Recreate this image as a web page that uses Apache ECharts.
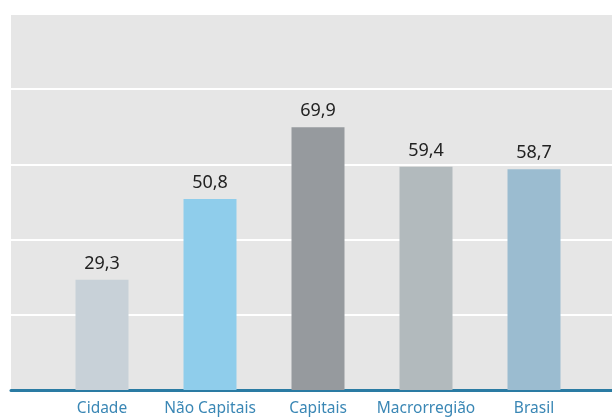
<!DOCTYPE html>
<html>
<head>
<meta charset="utf-8">
<script src="https://cdn.jsdelivr.net/npm/echarts@6/dist/echarts.min.js"></script>
<style>
html,body{margin:0;padding:0;background:#ffffff;}
#chart{width:612px;height:420px;}
</style>
</head>
<body>
<div id="chart"></div>
<script>
const categories = ['Cidade', 'Não Capitais', 'Capitais', 'Macrorregião', 'Brasil'];
const values = [29.3, 50.8, 69.9, 59.4, 58.7];
const barColors = ['#c8d1d8', '#8fcdeb', '#969a9e', '#b2babd', '#9bbcd0'];

const chart = echarts.init(document.getElementById('chart'));
chart.setOption({
  backgroundColor: '#ffffff',
  animation: false,
  grid: [
    {left: 11, right: 0, top: 14, bottom: 30, show: true, backgroundColor: '#e6e6e6', borderWidth: 0},
    {left: 48, width: 540, top: 14, bottom: 30}
  ],
  xAxis: [
    {gridIndex: 0, type: 'value', min: 0, max: 1,
     axisLine: {show: true, onZero: false, lineStyle: {color: '#2a7ba3', width: 3}},
     axisTick: {show: false}, axisLabel: {show: false}, splitLine: {show: false}},
    {gridIndex: 1, type: 'category', data: categories,
     axisLine: {show: false}, axisTick: {show: false},
     axisLabel: {interval: 0, color: '#3a87b5', fontSize: 15.5, fontFamily: 'Noto Sans', margin: 11}}
  ],
  yAxis: [
    {gridIndex: 0, type: 'value', min: 0, max: 100, interval: 20,
     axisLine: {show: false}, axisTick: {show: false}, axisLabel: {show: false},
     splitLine: {show: true, lineStyle: {color: '#ffffff', width: 2}}},
    {gridIndex: 1, type: 'value', min: 0, max: 100, show: false, splitLine: {show: false}}
  ],
  series: [{
    type: 'bar',
    xAxisIndex: 1, yAxisIndex: 1,
    barWidth: 53,
    data: values.map((v, i) => ({value: v, itemStyle: {color: barColors[i]}})),
    label: {
      show: true, position: 'top', distance: 7,
      color: '#222222', fontSize: 18, fontFamily: 'Noto Sans',
      formatter: p => p.value.toFixed(1).replace('.', ',')
    }
  }]
});
</script>
</body>
</html>
